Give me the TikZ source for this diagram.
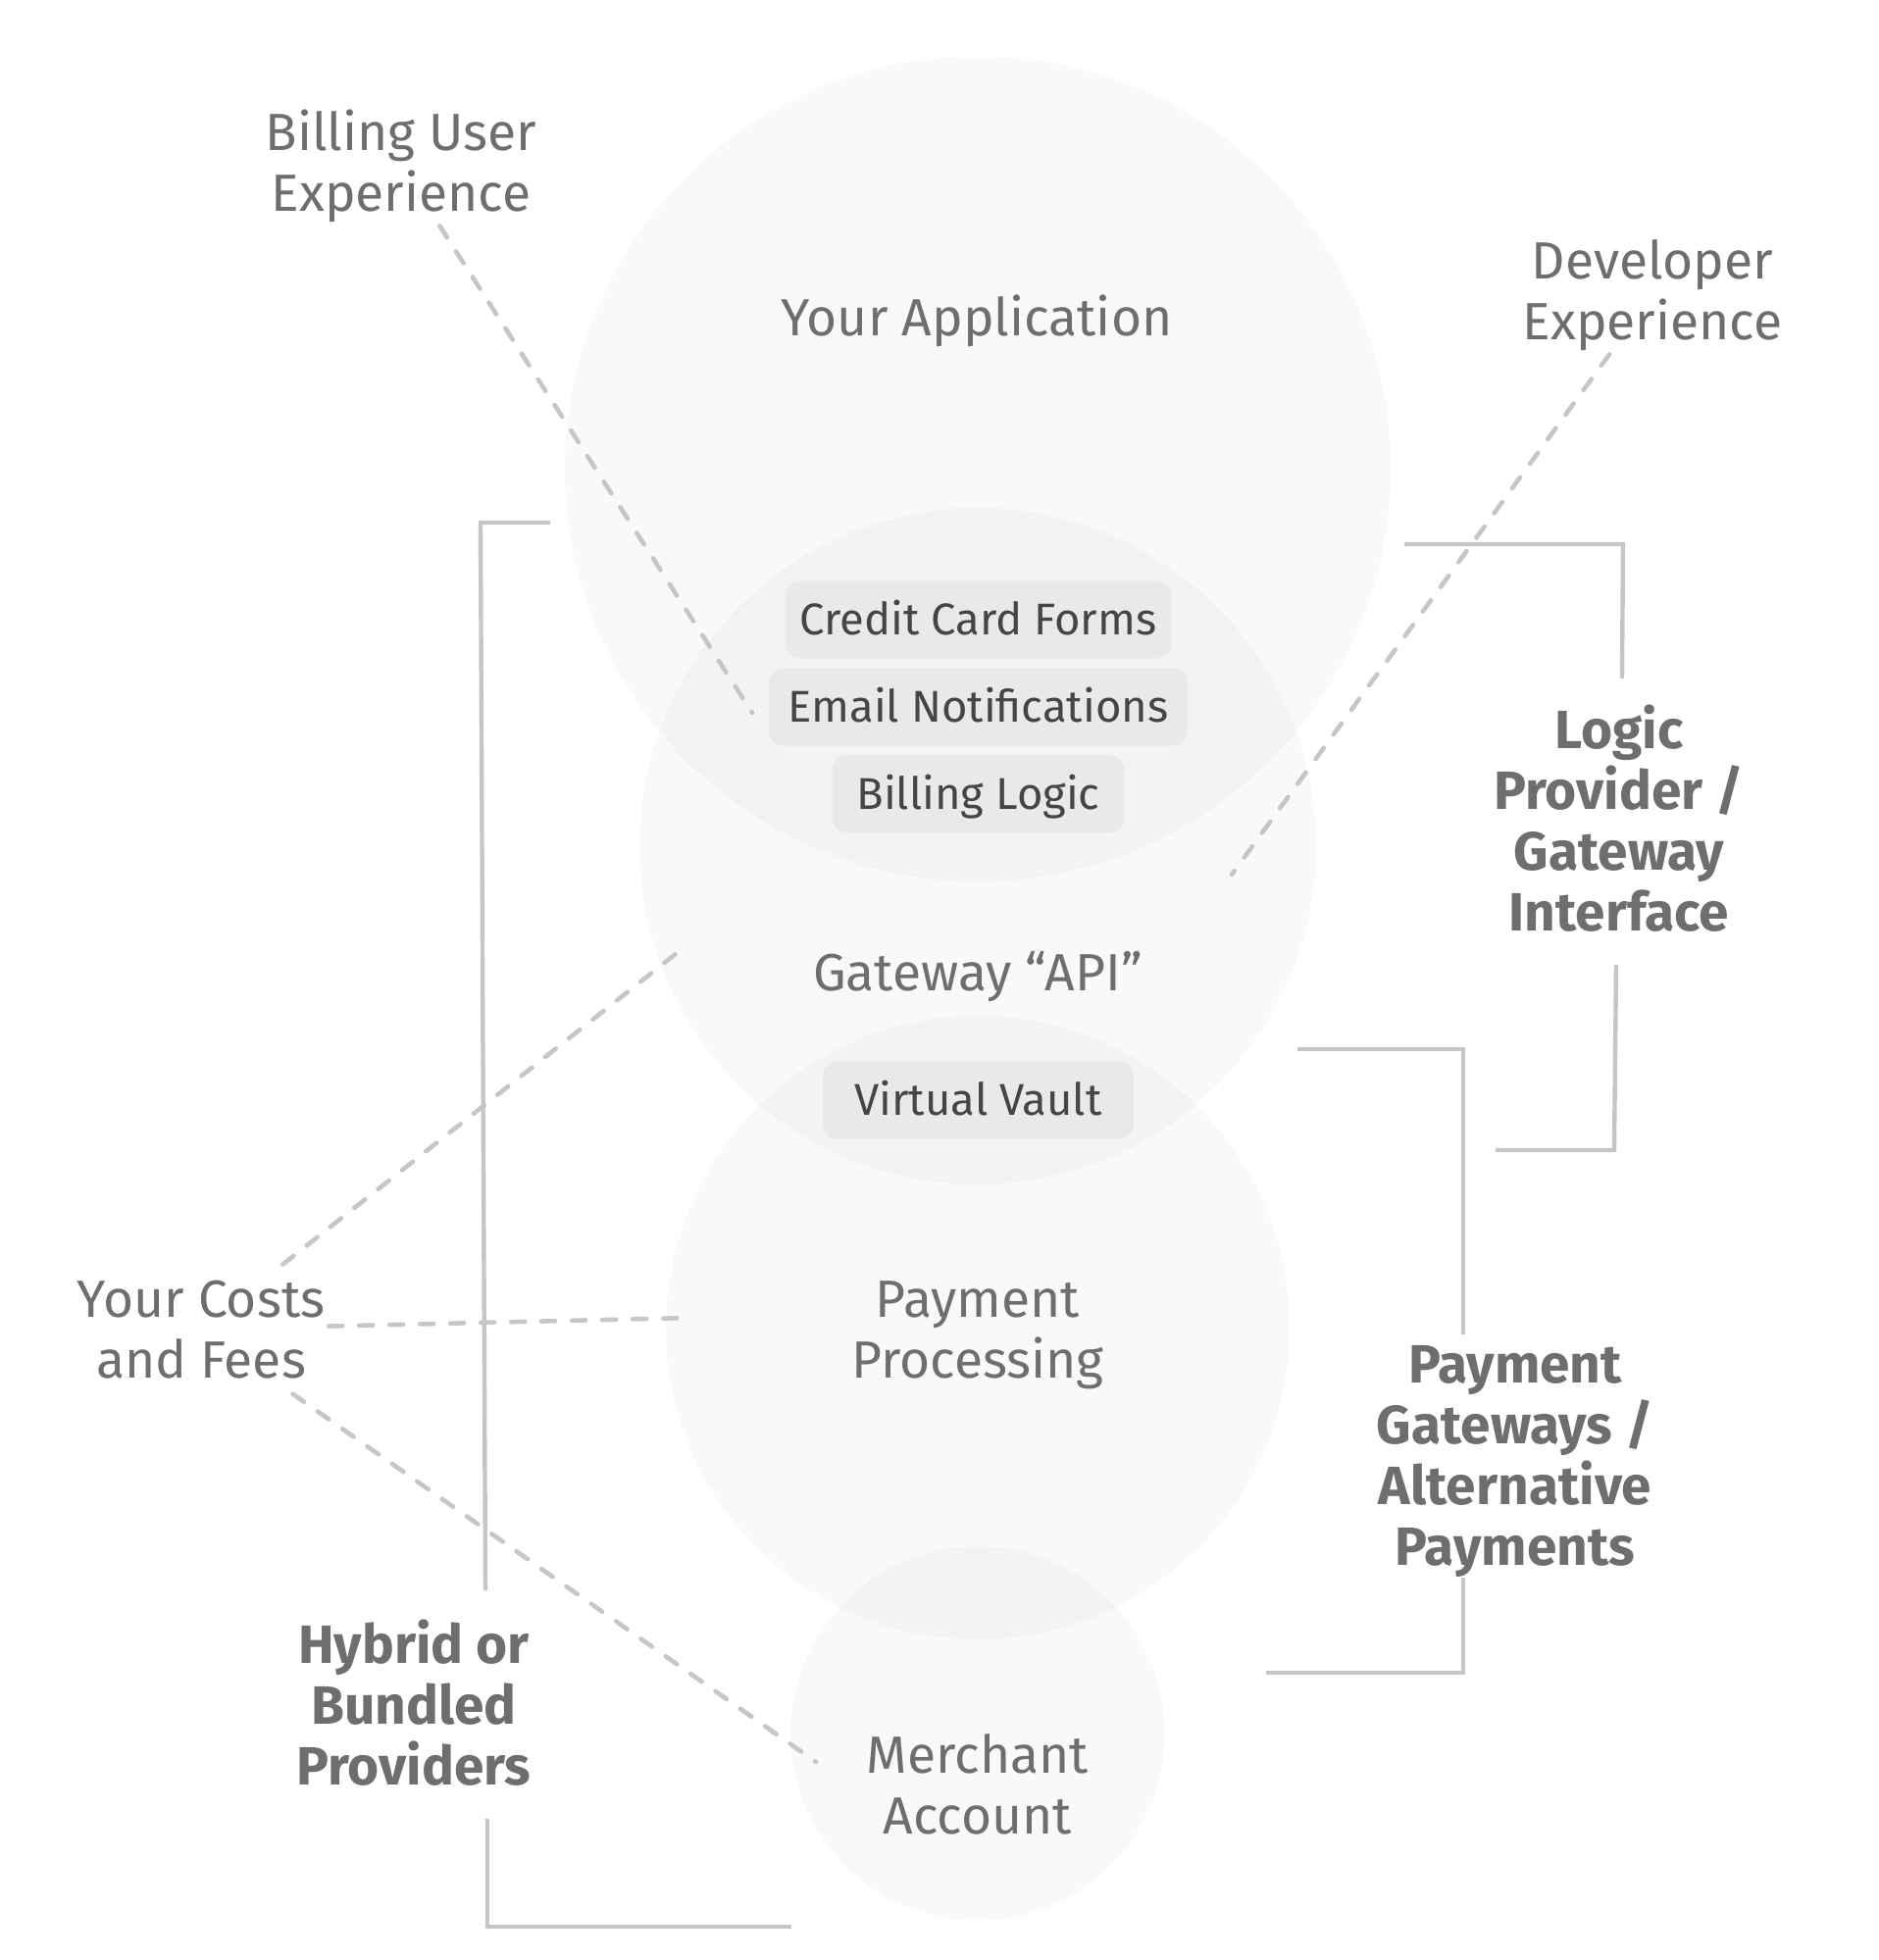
\documentclass[tikz,border=0pt]{standalone}
\usepackage{fontspec}
\setmainfont{Fira Sans}
\definecolor{labelgray}{HTML}{6E6E6E}
\definecolor{boxtext}{HTML}{454545}
\definecolor{linegray}{HTML}{C6C6C6}
\definecolor{boxfill}{HTML}{E9E9E9}
\begin{document}
\begin{tikzpicture}[x=0.5pt,y=-0.5pt,
  bubble/.style={circle, fill=black, fill opacity=0.024, draw=none, inner sep=0pt},
  chip/.style={rounded corners=7.5pt, fill=boxfill, inner sep=0pt, minimum height=39.5pt,
    text height=15.8pt, text depth=0pt, font=\fontsize{22.7}{28}\selectfont, text=boxtext},
  lbl/.style={font=\fontsize{26.7}{31}\selectfont, text=labelgray, align=center, inner sep=0pt, anchor=base},
  blbl/.style={lbl, font=\fontsize{27.5}{31}\selectfont\bfseries},
  leader/.style={draw=linegray, line width=2.3pt, line cap=round, dash pattern=on 7pt off 8.5pt},
  bracket/.style={draw=linegray, line width=2.2pt}]
\useasboundingbox (0,0) rectangle (1916,1999);
% circles
\node[bubble, minimum size=421pt] (app) at (997,478) {};
\node[bubble, minimum size=345pt] (gw) at (997,863) {};
\node[bubble, minimum size=318pt] (pp) at (997,1354) {};
\node[bubble, minimum size=191pt] (ma) at (997,1768) {};
% brackets
\draw[bracket] (561,533) -- (490,533) -- (495,1622);
\draw[bracket] (497,1855) -- (497,1965) -- (807,1965);
\draw[bracket] (1432,555) -- (1655,555) -- (1654,692);
\draw[bracket] (1648,984) -- (1646,1173) -- (1525,1173);
\draw[bracket] (1323,1070) -- (1492,1070) -- (1492,1361);
\draw[bracket] (1492,1609) -- (1492,1706) -- (1291,1706);
% chips
\node[chip, minimum width=197pt] (ccf) at (997.5,632) {Credit Card Forms};
\node[chip, minimum width=213.5pt] (email) at (997.5,721) {Email Notifications};
\node[chip, minimum width=149pt] (bl) at (997.5,809.5) {Billing Logic};
\node[chip, minimum width=158.5pt] (vv) at (997.5,1122) {Virtual Vault};
% labels (anchor = baseline of the last line)
\node[lbl, outer sep=2pt] (bux) at (409,215) {Billing User\\Experience};
\node[lbl, outer sep=2pt] (dev) at (1685,346) {Developer\\Experience};
\node[lbl] (appt) at (996,342) {Your Application};
\node[lbl] (gwt) at (997,1010) {Gateway “API”};
\node[lbl] (ppt) at (997,1405) {Payment\\Processing};
\node[lbl] (mat) at (997,1870) {Merchant\\Account};
\node[lbl, outer sep=8pt] (costs) at (205,1405) {Your Costs\\and Fees};
\node[blbl] (lp) at (1651,949) {Logic\\Provider /\\Gateway\\Interface};
\node[blbl] (pg) at (1545,1596) {Payment\\Gateways /\\Alternative\\Payments};
\node[blbl] (hb) at (422,1820) {Hybrid or\\Bundled\\Providers};
% leader end points
\coordinate (bux-end) at (767,727);
\coordinate (dev-end) at (1256,892);
\coordinate (costs-gw) at (699,965);
\coordinate (costs-pp) at (705,1344);
\coordinate (costs-ma) at (832,1797);
% leaders
\draw[leader] (bux) -- (bux-end);
\draw[leader] (dev) -- (dev-end);
\draw[leader] (costs) -- (costs-gw);
\draw[leader, shorten <=-6pt] (costs) -- (costs-pp);
\draw[leader] (costs) -- (costs-ma);
\end{tikzpicture}
\end{document}
